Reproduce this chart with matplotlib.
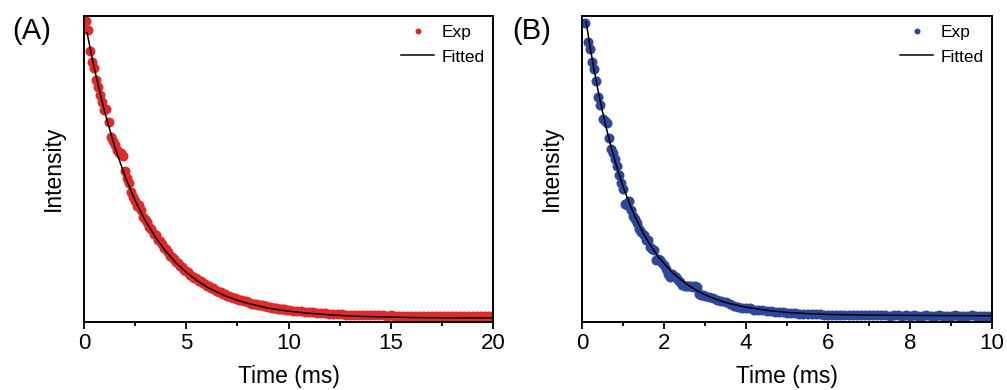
import matplotlib
matplotlib.use("Agg")
import matplotlib.pyplot as plt
from matplotlib.ticker import MultipleLocator

plt.rcParams['font.family'] = ['Liberation Sans', 'DejaVu Sans']

# ---------------- Panel A data ----------------
a_exp_t = [0.1, 0.2, 0.3, 0.4, 0.5, 0.6, 0.7, 0.8, 0.9, 1.0,
           1.1, 1.2, 1.3, 1.4, 1.5, 1.6, 1.7, 1.8, 1.9, 2.0,
           2.1, 2.2, 2.3, 2.4, 2.5, 2.6, 2.7, 2.8, 2.9, 3.0,
           3.1, 3.2, 3.3, 3.4, 3.5, 3.6, 3.7, 3.8, 3.9, 4.0,
           4.1, 4.2, 4.3, 4.4, 4.5, 4.6, 4.7, 4.8, 4.9, 5.0,
           5.1, 5.2, 5.3, 5.4, 5.5, 5.6, 5.7, 5.8, 5.9, 6.0,
           6.1, 6.2, 6.3, 6.4, 6.5, 6.6, 6.7, 6.8, 6.9, 7.0,
           7.1, 7.2, 7.3, 7.4, 7.5, 7.6, 7.7, 7.8, 7.9, 8.0,
           8.1, 8.2, 8.3, 8.4, 8.5, 8.6, 8.7, 8.8, 8.9, 9.0,
           9.1, 9.2, 9.3, 9.4, 9.5, 9.6, 9.7, 9.8, 9.9, 10.0,
           10.2, 10.4, 10.6, 10.8, 11.0, 11.2, 11.4, 11.6, 11.8, 12.0,
           12.2, 12.4, 12.6, 12.8, 13.0, 13.2, 13.4, 13.6, 13.8, 14.0,
           14.2, 14.4, 14.6, 14.8, 15.0, 15.2, 15.4, 15.6, 15.8, 16.0,
           16.2, 16.4, 16.6, 16.8, 17.0, 17.2, 17.4, 17.6, 17.8, 18.0,
           18.2, 18.4, 18.6, 18.8, 19.0, 19.2, 19.4, 19.6, 19.8, 20.0]
a_exp_y = [0.985, 0.955, 0.885, 0.850, 0.830, 0.790, 0.765, 0.740, 0.718, 0.690,
           0.695, 0.650, 0.600, 0.590, 0.575, 0.560, 0.550, 0.548, 0.540, 0.490,
           0.465, 0.450, 0.420, 0.405, 0.390, 0.375, 0.378, 0.360, 0.338, 0.332,
           0.322, 0.305, 0.300, 0.282, 0.278, 0.262, 0.260, 0.250, 0.236, 0.233,
           0.222, 0.210, 0.208, 0.200, 0.190, 0.188, 0.177, 0.174, 0.165, 0.159,
           0.157, 0.148, 0.145, 0.138, 0.136, 0.129, 0.127, 0.120, 0.118, 0.112,
           0.110, 0.104, 0.103, 0.097, 0.096, 0.091, 0.090, 0.085, 0.084, 0.079,
           0.078, 0.074, 0.073, 0.070, 0.068, 0.064, 0.065, 0.061, 0.060, 0.057,
           0.056, 0.053, 0.053, 0.050, 0.049, 0.047, 0.047, 0.044, 0.044, 0.042,
           0.041, 0.040, 0.038, 0.038, 0.036, 0.036, 0.034, 0.034, 0.032, 0.032,
           0.030, 0.028, 0.028, 0.026, 0.025, 0.024, 0.023, 0.022, 0.021, 0.020,
           0.019, 0.019, 0.018, 0.017, 0.017, 0.016, 0.016, 0.015, 0.015, 0.015,
           0.014, 0.014, 0.014, 0.013, 0.014, 0.013, 0.013, 0.012, 0.013, 0.012,
           0.012, 0.013, 0.012, 0.012, 0.011, 0.012, 0.012, 0.011, 0.012, 0.011,
           0.012, 0.011, 0.011, 0.012, 0.011, 0.011, 0.012, 0.011, 0.011, 0.011]

a_fit_t = [0.15, 0.5, 1.0, 1.5, 2.0, 2.5, 3.0, 3.5, 4.0, 4.5, 5.0, 5.5, 6.0,
           6.5, 7.0, 7.5, 8.0, 9.0, 10.0, 11.0, 12.0, 13.0, 14.0, 15.0, 16.0,
           18.0, 20.0]
a_fit_y = [0.945, 0.828, 0.687, 0.570, 0.473, 0.392, 0.326, 0.271, 0.225,
           0.187, 0.156, 0.130, 0.108, 0.091, 0.076, 0.064, 0.054, 0.038,
           0.028, 0.021, 0.016, 0.012, 0.010, 0.0085, 0.007, 0.006, 0.0055]

# ---------------- Panel B data ----------------
b_exp_t = [0.08, 0.15, 0.20, 0.25, 0.30, 0.35, 0.40, 0.45, 0.50, 0.55,
           0.60, 0.65, 0.70, 0.75, 0.80, 0.85, 0.90, 0.95, 1.00, 1.05,
           1.10, 1.15, 1.20, 1.25, 1.30, 1.35, 1.40, 1.45, 1.50, 1.55,
           1.60, 1.65, 1.70, 1.75, 1.80, 1.85, 1.90, 1.95, 2.00, 2.05,
           2.10, 2.15, 2.20, 2.25, 2.30, 2.35, 2.40, 2.45, 2.50, 2.55,
           2.60, 2.65, 2.70, 2.75, 2.80, 2.85, 2.90, 2.95, 3.00,
           3.1, 3.2, 3.3, 3.4, 3.5, 3.6, 3.7, 3.8, 3.9, 4.0,
           4.1, 4.2, 4.3, 4.4, 4.5, 4.6, 4.7, 4.8, 4.9, 5.0,
           5.1, 5.2, 5.3, 5.4, 5.5, 5.6, 5.7, 5.8, 5.9, 6.0,
           6.1, 6.2, 6.3, 6.4, 6.5, 6.6, 6.7, 6.8, 6.9, 7.0,
           7.1, 7.2, 7.3, 7.4, 7.5, 7.6, 7.7, 7.8, 7.9, 8.0,
           8.1, 8.2, 8.3, 8.4, 8.5, 8.6, 8.7, 8.8, 8.9, 9.0,
           9.1, 9.2, 9.3, 9.4, 9.5, 9.6, 9.7, 9.8, 9.9, 10.0]
b_exp_y = [0.977, 0.915, 0.890, 0.848, 0.825, 0.786, 0.734, 0.706, 0.660, 0.655,
           0.648, 0.598, 0.562, 0.548, 0.528, 0.505, 0.478, 0.450, 0.430, 0.380,
           0.378, 0.392, 0.360, 0.340, 0.330, 0.318, 0.300, 0.290, 0.278, 0.262,
           0.262, 0.240, 0.232, 0.228, 0.198, 0.200, 0.196, 0.188, 0.180, 0.168,
           0.150, 0.142, 0.150, 0.145, 0.140, 0.132, 0.125, 0.115, 0.110, 0.112,
           0.112, 0.110, 0.108, 0.110, 0.106, 0.085, 0.080, 0.082, 0.078,
           0.074, 0.070, 0.066, 0.060, 0.057, 0.052, 0.046, 0.043, 0.040, 0.039,
           0.037, 0.033, 0.032, 0.031, 0.030, 0.028, 0.026, 0.025, 0.024, 0.022,
           0.021, 0.022, 0.020, 0.020, 0.019, 0.019, 0.018, 0.018, 0.017, 0.017,
           0.016, 0.017, 0.016, 0.015, 0.016, 0.015, 0.015, 0.014, 0.015, 0.014,
           0.014, 0.015, 0.014, 0.014, 0.013, 0.014, 0.014, 0.013, 0.014, 0.013,
           0.014, 0.013, 0.013, 0.014, 0.013, 0.013, 0.014, 0.013, 0.013, 0.013,
           0.014, 0.013, 0.013, 0.013, 0.014, 0.013, 0.013, 0.013, 0.013, 0.013]

b_fit_t = [0.1, 0.2, 0.3, 0.4, 0.5, 0.6, 0.7, 0.8, 0.9, 1.0,
           1.1, 1.2, 1.3, 1.4, 1.5, 1.6, 1.7, 1.8, 1.9, 2.0,
           2.2, 2.4, 2.6, 2.8, 3.0, 3.2, 3.4, 3.6, 3.8, 4.0,
           4.5, 5.0, 5.5, 6.0, 7.0, 8.0, 10.0]
b_fit_y = [0.980, 0.896, 0.819, 0.749, 0.685, 0.627, 0.574, 0.525, 0.480, 0.440,
           0.403, 0.369, 0.338, 0.310, 0.284, 0.260, 0.239, 0.219, 0.201, 0.185,
           0.156, 0.133, 0.113, 0.096, 0.082, 0.071, 0.061, 0.053, 0.047, 0.041,
           0.031, 0.024, 0.020, 0.0175, 0.015, 0.014, 0.013]

panels = [
    dict(label="(A)", t=a_exp_t, y=a_exp_y, ft=a_fit_t, fy=a_fit_y,
         color="#E02A2A", xmax=20, major=5, minor=2.5, xtl=["0", "5", "10", "15", "20"],
         left=84, right=493, lab_x=12),
    dict(label="(B)", t=b_exp_t, y=b_exp_y, ft=b_fit_t, fy=b_fit_y,
         color="#2D479C", xmax=10, major=2, minor=1, xtl=["0", "2", "4", "6", "8", "10"],
         left=582, right=992, lab_x=512),
]

W, H = 1007, 390
fig = plt.figure(figsize=(W / 100, H / 100), dpi=100)

top_px, bot_px = 16, 321.5
for p in panels:
    ax = fig.add_axes([p["left"] / W, 1 - bot_px / H,
                       (p["right"] - p["left"]) / W, (bot_px - top_px) / H])
    ax.plot(p["t"], p["y"], linestyle="none", marker="o", markersize=7.2,
            color=p["color"], markeredgewidth=0, label="Exp", zorder=2)
    ax.plot(p["ft"], p["fy"], color="black", linewidth=1.1, label="Fitted", zorder=3)
    ax.set_xlim(0, p["xmax"])
    ax.set_ylim(-0.006, 1.0)
    ax.xaxis.set_major_locator(MultipleLocator(p["major"]))
    ax.xaxis.set_minor_locator(MultipleLocator(p["minor"]))
    ax.set_xticks([i * p["major"] for i in range(len(p["xtl"]))])
    ax.set_xticklabels(p["xtl"])
    ax.set_yticks([])
    ax.tick_params(axis="x", which="major", direction="out", length=5, width=1.3,
                   labelsize=16, pad=3)
    ax.tick_params(axis="x", which="minor", direction="out", length=3, width=1.3)
    for s in ax.spines.values():
        s.set_linewidth(1.4)
    ax.set_xlabel("Time (ms)", fontsize=16.5, labelpad=8)
    ax.set_ylabel("Intensity", fontsize=16.5, labelpad=14)
    ax.legend(loc="upper right", frameon=False, fontsize=12.5, markerscale=0.6,
              handlelength=1.9, handletextpad=0.4, labelspacing=0.55,
              borderaxespad=0.2, borderpad=0.3)
    fig.text(p["lab_x"] / W, 1 - 31 / H, p["label"], fontsize=21, ha="left", va="center")

fig.savefig("out.png", dpi=100)
